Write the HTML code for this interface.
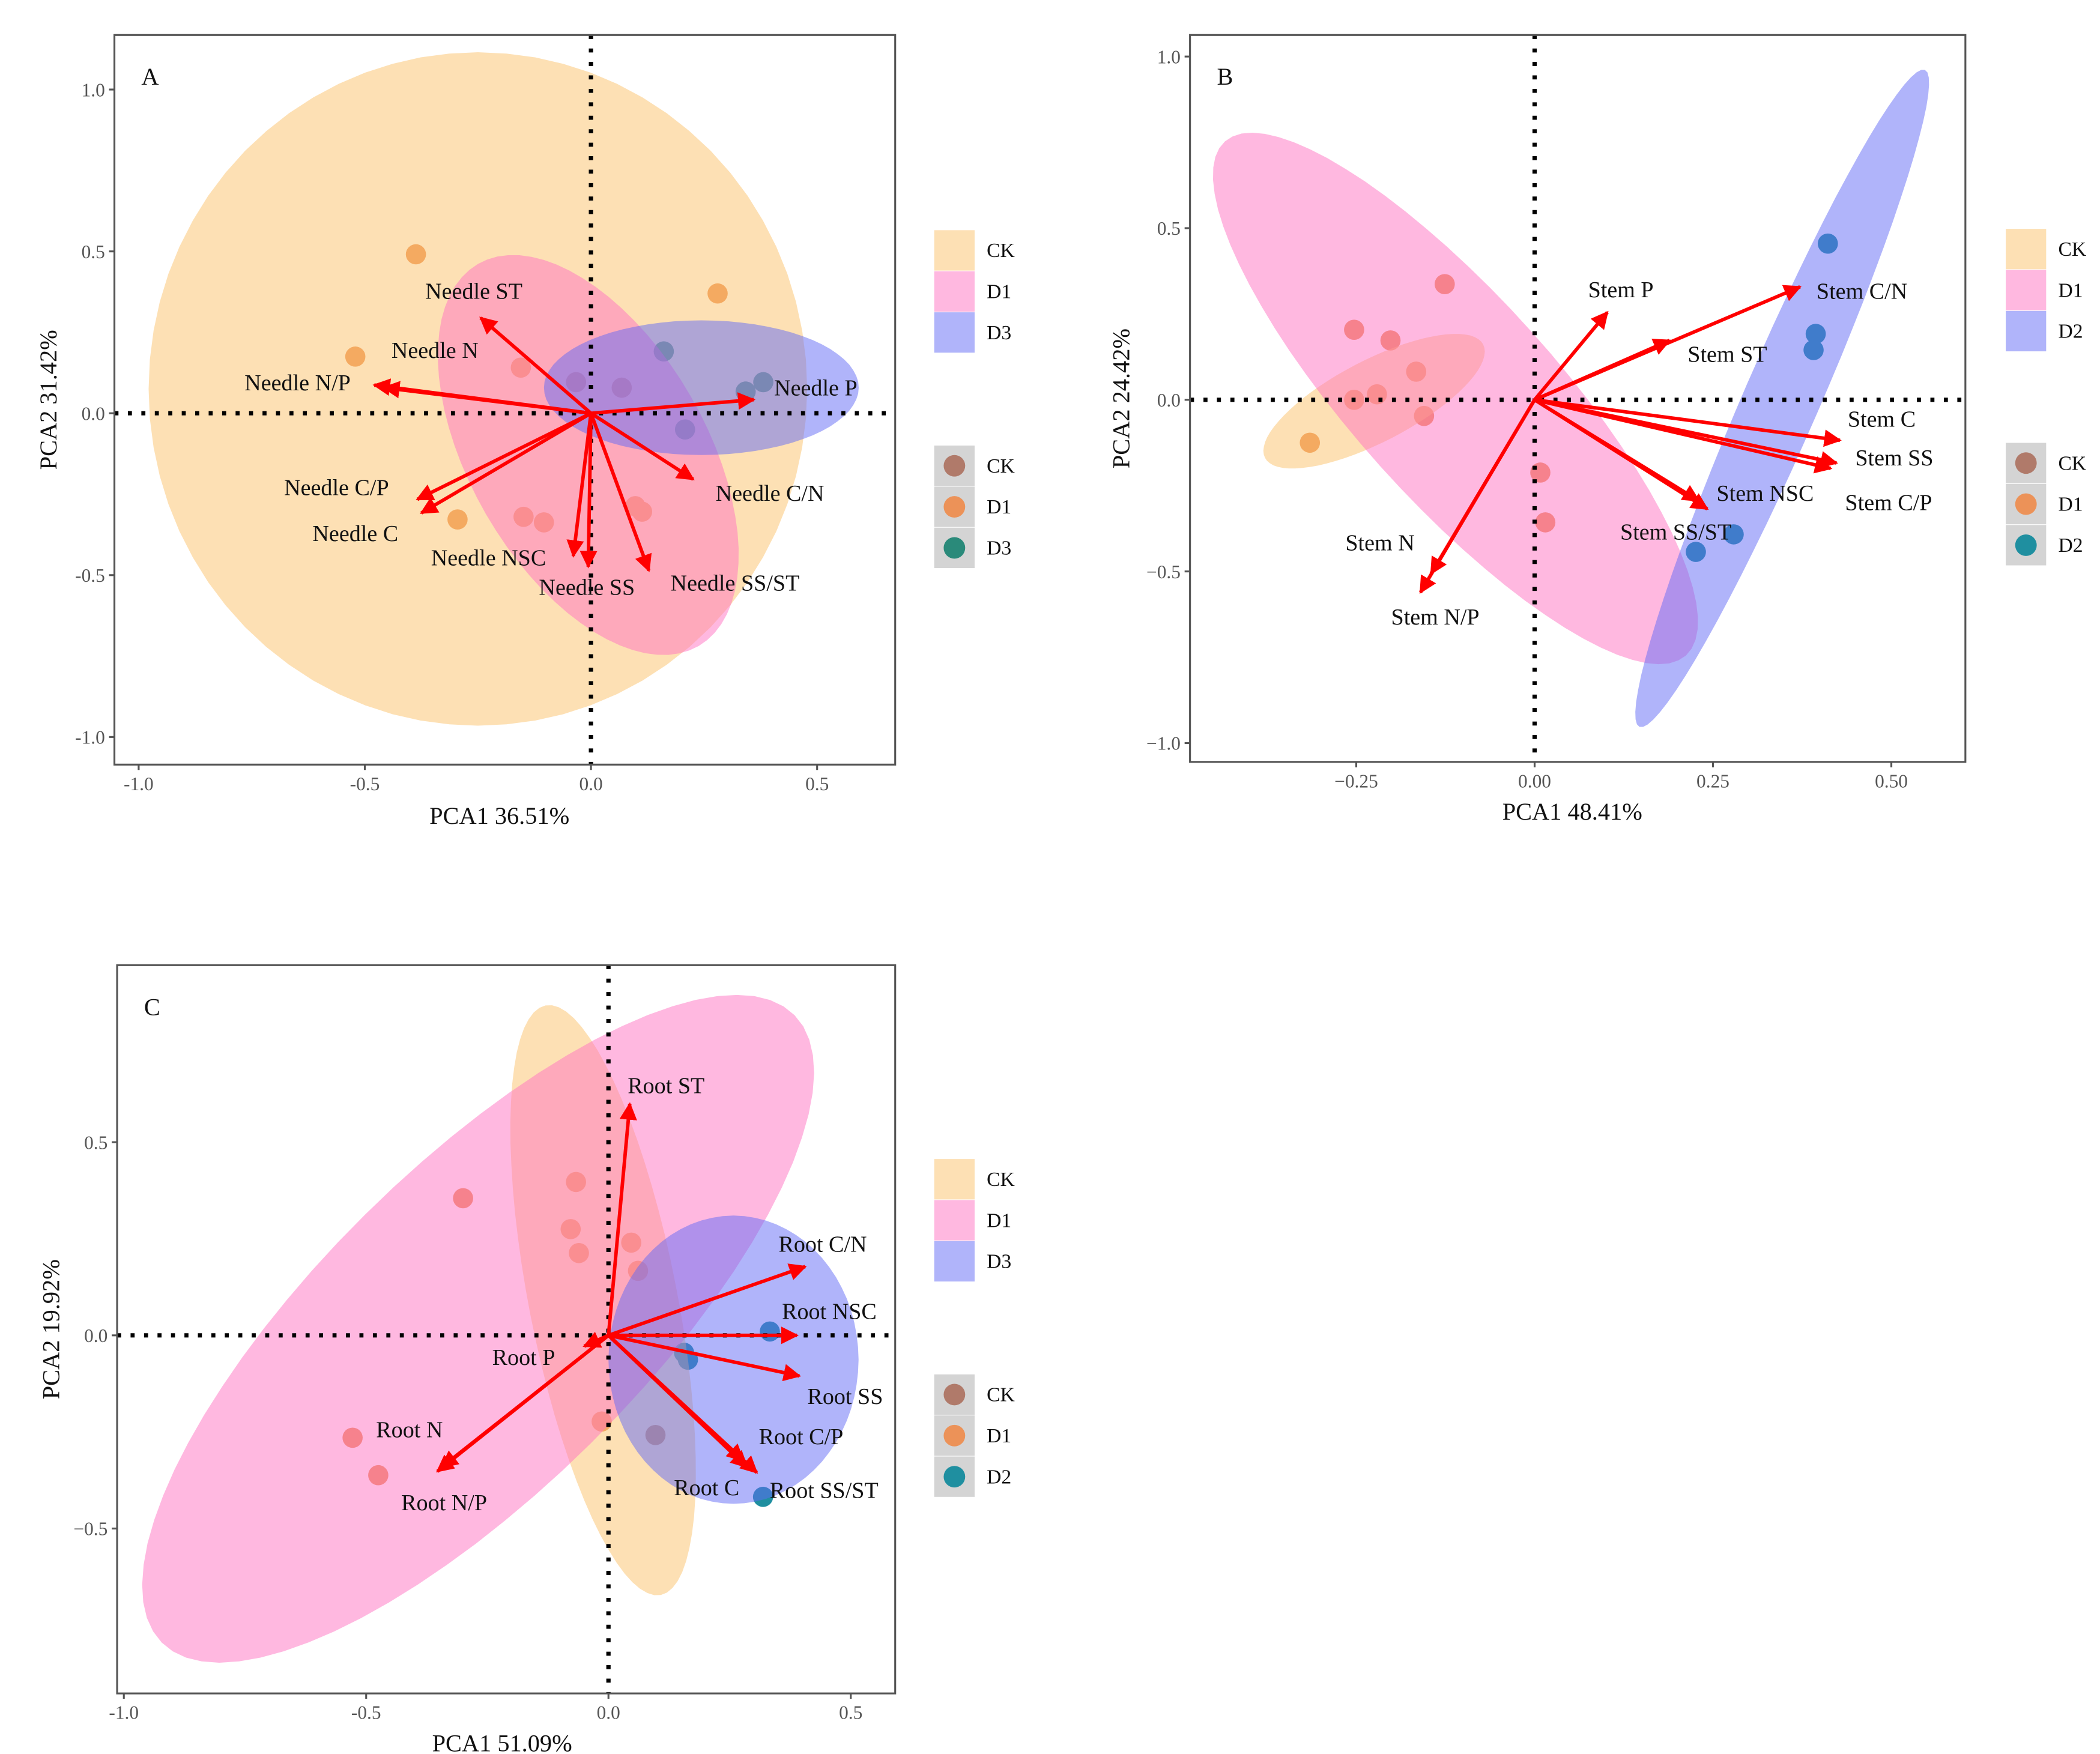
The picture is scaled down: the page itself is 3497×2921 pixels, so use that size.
<!DOCTYPE html>
<html><head><meta charset="utf-8"><style>
html,body{margin:0;padding:0;background:#fff;}
svg{display:block;font-family:"Liberation Serif",serif;}
</style></head><body>
<svg id="fig" xmlns="http://www.w3.org/2000/svg" width="3497" height="2921" viewBox="0 0 1560 1303" preserveAspectRatio="none">
<defs>
<marker id="ah" viewBox="0 0 10 10" refX="9" refY="5" markerWidth="5" markerHeight="5" orient="auto-start-reverse" markerUnits="strokeWidth"><path d="M0,0 L10,5 L0,10 z" fill="#f00"/></marker>
</defs>
</svg>
<script>
// ---------- Panel A data ----------
const aPtX=[-0.387,-0.521,-0.155,-0.295,-0.149,-0.104,0.098,0.113,0.280,-0.033,0.068,0.161,0.208,0.342,0.381];
const aPtY=[0.491,0.175,0.141,-0.328,-0.320,-0.337,-0.287,-0.304,0.370,0.096,0.079,0.191,-0.050,0.067,0.096];
const aPtG=['D1','D1','D1','D1','D1','D1','D1','D1','D1','CK','CK','D3','D3','D3','D3'];
const aVarNames=['Needle ST','Needle N/P','Needle N','Needle C/P','Needle C','Needle NSC','Needle SS','Needle SS/ST','Needle C/N','Needle P'];
const aVarX=[-0.244,-0.479,-0.458,-0.384,-0.375,-0.039,-0.006,0.128,0.226,0.360];
const aVarY=[0.295,0.087,0.079,-0.266,-0.308,-0.441,-0.474,-0.486,-0.204,0.042];
const aLblOff=[[-5,-18],[-57,0],[38,-26],[-60,-7],[-49,17],[-63,3],[-1,17],[64,11],[57,12],[46,-7]];
const aEllG=['CK','D1','D3'];
const aEllC=[[-0.25,0.075],[-0.006,-0.129],[0.244,0.079]];
const aEllA=[[0.728,0],[0.244,-0.590],[0.348,0.0]];
const aEllB=[[0,1.04],[0.226,0.183],[0,0.208]];
// ---------- Panel B data ----------
const bPtX=[-0.126,-0.253,-0.202,-0.166,-0.253,-0.221,-0.155,-0.315,0.008,0.015,0.411,0.394,0.391,0.226,0.279];
const bPtY=[0.337,0.204,0.173,0.082,0,0.016,-0.047,-0.125,-0.212,-0.357,0.455,0.192,0.145,-0.443,-0.392];
const bPtG=['D1','D1','D1','D1','D1','D1','D1','D1','D1','D1','D2','D2','D2','D2','D2'];
const bVarNames=['Stem P','Stem ST','Stem C/N','Stem C','Stem SS','Stem C/P','Stem NSC','Stem SS/ST','Stem N','Stem N/P'];
const bVarX=[0.102,0.189,0.372,0.428,0.423,0.415,0.242,0.230,-0.145,-0.160];
const bVarY=[0.255,0.173,0.329,-0.118,-0.184,-0.200,-0.318,-0.294,-0.506,-0.561];
const bLblOff=[[10,-15],[43,12],[46,5],[31,-14],[43,-2],[43,27],[43,-10],[-17,25],[-38,-21],[11,20]];
const bEllG=['CK','D1','D2'];
const bEllC=[[-0.225,-0.004],[-0.111,0.004],[0.347,0.004]];
const bEllA=[[0.153,0.165],[0.323,-0.749],[0.2,0.957]];
const bEllB=[[0.026,-0.106],[-0.106,-0.196],[0.049,-0.043]];
// ---------- Panel C data ----------
const cPtX=[-0.300,-0.067,-0.078,-0.061,0.047,0.061,-0.014,-0.528,-0.475,0.097,0.156,0.164,0.333,0.319];
const cPtY=[0.355,0.397,0.275,0.213,0.240,0.167,-0.223,-0.265,-0.362,-0.258,-0.045,-0.063,0.010,-0.418];
const cPtG=['D1','D1','D1','D1','D1','D1','D1','D1','D1','CK','D2','D2','D2','D2'];
const cVarNames=['Root ST','Root C/N','Root NSC','Root SS','Root C/P','Root C','Root SS/ST','Root P','Root N','Root N/P'];
const cVarX=[0.044,0.406,0.389,0.394,0.278,0.286,0.306,-0.05,-0.344,-0.353];
const cVarY=[0.599,0.178,0,-0.105,-0.324,-0.341,-0.355,-0.028,-0.341,-0.352];
const cLblOff=[[27,-12],[13,-15],[24,-16],[34,17],[43,-16],[-30,17],[50,15],[-45,10],[-24,-26],[5,25]];
const cEllG=['CK','D1','D3'];
const cEllC=[[-0.011,0.091],[-0.269,0.017],[0.258,-0.063]];
const cEllA=[[0.119,-0.763],[0.653,0.812],[0.258,0]];
const cEllB=[[0.150,0.038],[0.233,-0.296],[0,0.373]];

const ptColor={CK:'#b07a6a',D1:'#ec9258',D2:'#1f8fa0',D3:'#2a8a7a'};
const ellColor={CK:'#fbc169',D1:'#ff71c1',D2:'#6169f5',D3:'#6169f5'};
const swatch={CK:'#fde0b4',D1:'#ffb8e0',D2:'#b0b4fa',D3:'#b0b4fa'};

const panels=[
 {id:'a',letter:'A',fx0:85,fx1:665,fy0:26,fy1:568,ox:439,sx:336,oy:307,sy:240.5,
  xt:[-1,-0.5,0,0.5],xtl:['-1.0','-0.5','0.0','0.5'],yt:[-1,-0.5,0,0.5,1],ytl:['-1.0','-0.5','0.0','0.5','1.0'],
  xtitle:'PCA1 36.51%',ytitle:'PCA2 31.42%',ptx:aPtX,pty:aPtY,ptg:aPtG,vn:aVarNames,vx:aVarX,vy:aVarY,lo:aLblOff,
  eg:aEllG,ec:aEllC,ea:aEllA,eb:aEllB,lgx:694,lgy1:171,lgy2:331,groups:['CK','D1','D3'],xtitleX:371,xtitleY:606,ytitleX:36},
 {id:'b',letter:'B',fx0:884,fx1:1460,fy0:26,fy1:566,ox:1140,sx:530,oy:297,sy:255,
  xt:[-0.25,0,0.25,0.5],xtl:['\u22120.25','0.00','0.25','0.50'],yt:[-1,-0.5,0,0.5,1],ytl:['\u22121.0','\u22120.5','0.0','0.5','1.0'],
  xtitle:'PCA1 48.41%',ytitle:'PCA2 24.42%',ptx:bPtX,pty:bPtY,ptg:bPtG,vn:bVarNames,vx:bVarX,vy:bVarY,lo:bLblOff,
  eg:bEllG,ec:bEllC,ea:bEllA,eb:bEllB,lgx:1490,lgy1:170,lgy2:329,groups:['CK','D1','D2'],xtitleX:1168,xtitleY:603,ytitleX:833},
 {id:'c',letter:'C',fx0:87,fx1:665,fy0:717,fy1:1258,ox:452,sx:360,oy:992,sy:287,
  xt:[-1,-0.5,0,0.5],xtl:['-1.0','-0.5','0.0','0.5'],yt:[-0.5,0,0.5],ytl:['\u22120.5','0.0','0.5'],
  xtitle:'PCA1 51.09%',ytitle:'PCA2 19.92%',ptx:cPtX,pty:cPtY,ptg:cPtG,vn:cVarNames,vx:cVarX,vy:cVarY,lo:cLblOff,
  eg:cEllG,ec:cEllC,ea:cEllA,eb:cEllB,lgx:694,lgy1:861,lgy2:1021,groups:['CK','D1','D3'],lg2groups:['CK','D1','D2'],xtitleX:373,xtitleY:1295,ytitleX:38}
];

const NS='http://www.w3.org/2000/svg';
const svg=document.getElementById('fig');
const defs=svg.querySelector('defs');
function mk(tag,attrs,parent){const e=document.createElementNS(NS,tag);for(const k in attrs)e.setAttribute(k,attrs[k]);(parent||svg).appendChild(e);return e;}

panels.forEach(p=>{
  const X=v=>p.ox+v*p.sx, Y=v=>p.oy-v*p.sy;
  const g=mk('g',{});
  
  
  const cp=mk('clipPath',{id:'clip-'+p.id},defs);
  mk('rect',{x:p.fx0,y:p.fy0,width:p.fx1-p.fx0,height:p.fy1-p.fy0},cp);
  const pg=mk('g',{},g);
  
  
  p.ptx.forEach((v,i)=>{
    const c=mk('circle',{cx:X(v),cy:Y(p.pty[i]),r:7.5,fill:ptColor[p.ptg[i]]},pg);
    
    
  });
  const eg=mk('g',{'clip-path':'url(#clip-'+p.id+')'},g);
  
  
  p.eg.forEach((grp,i)=>{
    let d='';
    for(let k=0;k<=72;k++){const t=k/72*2*Math.PI;const dx=p.ec[i][0]+p.ea[i][0]*Math.cos(t)+p.eb[i][0]*Math.sin(t);const dy=p.ec[i][1]+p.ea[i][1]*Math.cos(t)+p.eb[i][1]*Math.sin(t);d+=(k?'L':'M')+X(dx).toFixed(1)+','+Y(dy).toFixed(1);}
    const e=mk('path',{d:d+'Z',fill:ellColor[grp],'fill-opacity':0.5,stroke:'none'},eg);
    
    
  });
  const zx=mk('line',{x1:X(0),x2:X(0),y1:p.fy0,y2:p.fy1,stroke:'#000','stroke-width':3.2,'stroke-dasharray':'3 7'},g);
  
  
  const zy=mk('line',{x1:p.fx0,x2:p.fx1,y1:Y(0),y2:Y(0),stroke:'#000','stroke-width':3.2,'stroke-dasharray':'3 7'},g);
  
  
  p.vn.forEach((n,i)=>{
    const a=mk('line',{x1:X(0),y1:Y(0),x2:X(p.vx[i]),y2:Y(p.vy[i]),stroke:'#f00','stroke-width':2.6,'marker-end':'url(#ah)'},g);
    
    
    const t=mk('text',{x:X(p.vx[i])+p.lo[i][0],y:Y(p.vy[i])+p.lo[i][1],'font-size':17,'text-anchor':'middle','dominant-baseline':'middle',fill:'#111'},g);
    t.textContent=n;
    
    
  });
  const fr=mk('rect',{x:p.fx0,y:p.fy0,width:p.fx1-p.fx0,height:p.fy1-p.fy0,fill:'none',stroke:'#555','stroke-width':1.4},g);
  
  
  p.xt.forEach((v,i)=>{
    mk('line',{x1:X(v),x2:X(v),y1:p.fy1,y2:p.fy1+4,stroke:'#555','stroke-width':1.4},g);
    const t=mk('text',{x:X(v),y:p.fy1+19,'font-size':14,'text-anchor':'middle',fill:'#555'},g);
    t.textContent=p.xtl[i];
    
    
  });
  p.yt.forEach((v,i)=>{
    mk('line',{x1:p.fx0-4,x2:p.fx0,y1:Y(v),y2:Y(v),stroke:'#555','stroke-width':1.4},g);
    const t=mk('text',{x:p.fx0-7,y:Y(v)+5,'font-size':14,'text-anchor':'end',fill:'#555'},g);
    t.textContent=p.ytl[i];
    
    
  });
  const xt=mk('text',{x:p.xtitleX,y:p.xtitleY+6,'font-size':18,'text-anchor':'middle',fill:'#111'},g);
  xt.textContent=p.xtitle;
  
  
  const ymid=(p.fy0+p.fy1)/2;
  const yt=mk('text',{x:p.ytitleX+6,y:ymid,'font-size':18,'text-anchor':'middle',fill:'#111',transform:'rotate(-90 '+(p.ytitleX+6)+' '+ymid+')'},g);
  yt.textContent=p.ytitle;
  
  
  const lt=mk('text',{x:p.fx0+20,y:p.fy0+37,'font-size':18,fill:'#111'},g);
  lt.textContent=p.letter;
  
  
  const lg=mk('g',{},g);
  
  
  p.groups.forEach((grp,i)=>{
    const r=mk('rect',{x:p.lgx,y:p.lgy1+i*30.5,width:30,height:30,fill:swatch[grp]},lg);
    
    
    const t=mk('text',{x:p.lgx+39,y:p.lgy1+i*30.5+20,'font-size':15,fill:'#111'},lg);
    t.textContent=grp;
    
    
  });
  const lg2=mk('g',{},g);
  
  
  (p.lg2groups||p.groups).forEach((grp,i)=>{
    const yy=p.lgy2+i*30.5;
    const r=mk('rect',{x:p.lgx,y:yy,width:30,height:30,fill:'#d4d4d4'},lg2);
    
    
    mk('circle',{cx:p.lgx+15,cy:yy+15,r:8,fill:ptColor[grp]},lg2);
    const t=mk('text',{x:p.lgx+39,y:yy+20,'font-size':15,fill:'#111'},lg2);
    t.textContent=grp;
    
    
  });
});
</script>
</body></html>
